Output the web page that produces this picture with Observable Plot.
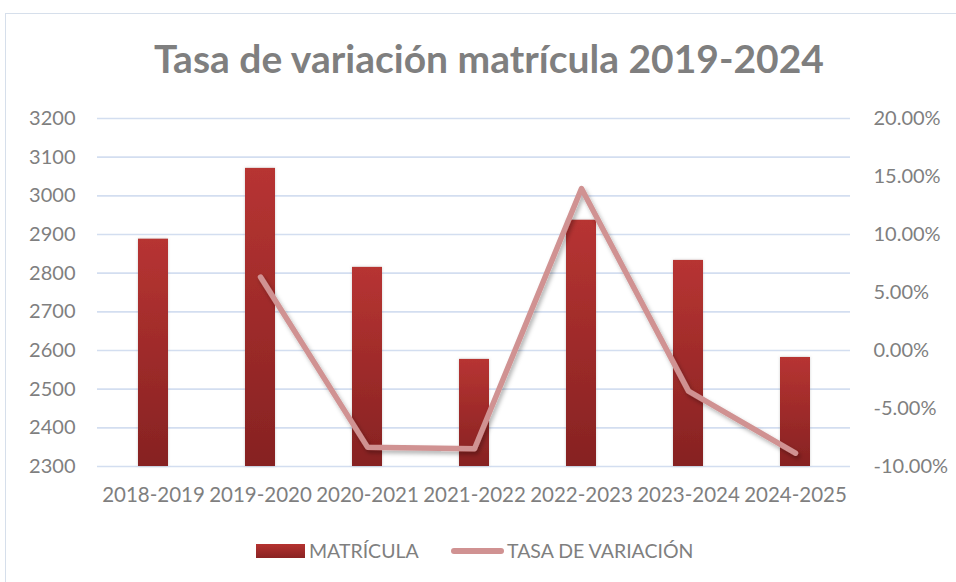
<!DOCTYPE html>
<html><head><meta charset="utf-8">
<script src="https://cdn.jsdelivr.net/npm/d3@7"></script>
<script src="https://cdn.jsdelivr.net/npm/@observablehq/plot@0.6"></script>
<style>
body{margin:0;background:#fff;font-family:Lato,"Open Sans",sans-serif;}
#wrap{position:relative;width:956px;height:582px;overflow:hidden;background:#fff;}
#frame{position:absolute;left:5px;top:13px;width:1000px;height:620px;border-left:1.5px solid #d6dfeb;border-top:1.5px solid #d6dfeb;}
#title{position:absolute;left:0;width:978px;top:35px;text-align:center;font-weight:bold;font-size:39px;line-height:1.2;color:#7f7f7f;white-space:nowrap;}
#chart{position:absolute;left:0;top:0;}
#legend{position:absolute;left:0;top:538px;width:956px;height:26px;font-size:19.5px;color:#7f7f7f;}
.sw{position:absolute;}
.lt{position:absolute;top:0;line-height:26px;}
</style>
</head><body>
<div id="wrap">
  <div id="frame"></div>
  <div id="title">Tasa de variación matrícula 2019-2024</div>
  <div id="chart"></div>
  <div id="legend">
    <div class="sw" style="left:256px;top:6px;width:49px;height:14px;background:linear-gradient(#b53230,#8a2323);"></div>
    <div class="lt" id="l1" style="left:309px;">MATRÍCULA</div>
    <div class="sw" style="left:451px;top:10px;width:53px;height:6px;border-radius:3px;background:#d09292;"></div>
    <div class="lt" id="l2" style="left:507px;">TASA DE VARIACIÓN</div>
  </div>
</div>
<script>
const periods = ["2018-2019","2019-2020","2020-2021","2021-2022","2022-2023","2023-2024","2024-2025"];
const matricula = [2888, 3071, 2815, 2577, 2937, 2833, 2582];
const tasa = [null, 6.33, -8.33, -8.47, 13.96, -3.50, -8.85];
const leftTicks = [2300, 2400, 2500, 2600, 2700, 2800, 2900, 3000, 3100, 3200];
const rightTicks = [-10, -5, 0, 5, 10, 15, 20];

const toLeft = d3.scaleLinear([-10, 20], [2300, 3200]);

const bars = periods.map((p, i) => ({period: p, matricula: matricula[i]}));
const rates = periods.map((p, i) => ({period: p, tasa: tasa[i]})).filter(d => d.tasa != null);

const chart = Plot.plot({
  width: 956,
  height: 520,
  marginTop: 118,
  marginBottom: 54,
  marginLeft: 97,
  marginRight: 106,
  style: {fontFamily: "Lato, 'Open Sans', sans-serif", color: "#7f7f7f", background: "transparent", overflow: "visible"},
  x: {domain: periods, paddingInner: 0.72, paddingOuter: 0.36, label: null},
  y: {domain: [2300, 3200], label: null},
  marks: [
    Plot.gridY(leftTicks, {stroke: "#d3def0", strokeOpacity: 1, strokeWidth: 1.6}),
    Plot.barY(bars, {x: "period", y1: 2300, y2: "matricula", fill: "url(#gbar)"}),
    Plot.line(rates, {x: "period", y: d => toLeft(d.tasa), stroke: "#d09292", strokeWidth: 5.5, strokeLinecap: "round", strokeLinejoin: "round"}),
    Plot.axisY(leftTicks, {anchor: "left", tickSize: 0, tickPadding: 22, fontSize: 20, label: null, tickFormat: d => String(d)}),
    Plot.axisY(rightTicks.map(t => toLeft(t)), {anchor: "right", tickSize: 0, tickPadding: 23, fontSize: 20, label: null,
      tickFormat: v => (Math.round(toLeft.invert(v) * 100) / 100 + 0).toFixed(2) + "%"}),
    Plot.axisX({tickSize: 0, tickPadding: 21, fontSize: 20.5, label: null})
  ]
});

const svg = d3.select(chart);
const defs = svg.insert("defs", ":first-child");
const g = defs.append("linearGradient").attr("id", "gbar").attr("x1", 0).attr("y1", 0).attr("x2", 0).attr("y2", 1);
g.append("stop").attr("offset", "0%").attr("stop-color", "#b73432");
g.append("stop").attr("offset", "100%").attr("stop-color", "#862222");
const f1 = defs.append("filter").attr("id", "barShadow").attr("x", "-30%").attr("y", "-10%").attr("width", "160%").attr("height", "120%");
f1.append("feDropShadow").attr("dx", 0).attr("dy", 0).attr("stdDeviation", 1.6).attr("flood-color", "#808080").attr("flood-opacity", 0.35);
const f2 = defs.append("filter").attr("id", "lineShadow").attr("x", "-10%").attr("y", "-10%").attr("width", "130%").attr("height", "130%");
f2.append("feDropShadow").attr("dx", 2).attr("dy", 3).attr("stdDeviation", 2).attr("flood-color", "#000").attr("flood-opacity", 0.3);
svg.selectAll("g[aria-label='bar'] rect").attr("filter", "url(#barShadow)");
svg.selectAll("g[aria-label='line'] path").attr("filter", "url(#lineShadow)");

document.getElementById("chart").appendChild(chart);
</script>
</body></html>
